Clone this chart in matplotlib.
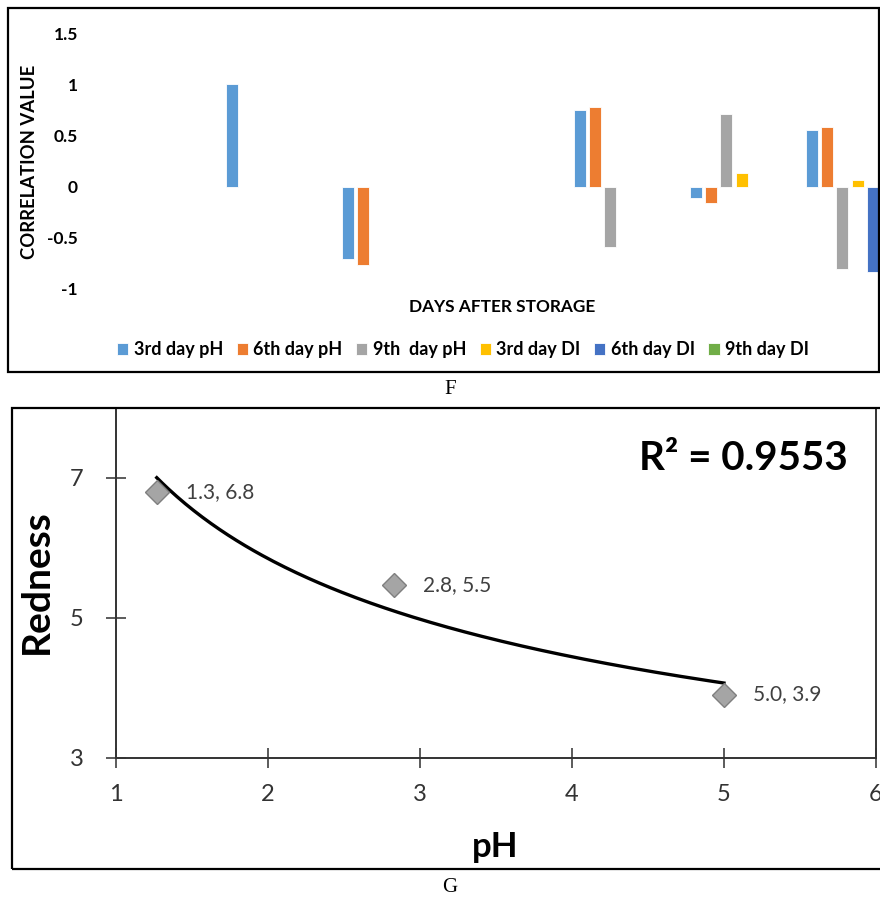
import numpy as np
import matplotlib
matplotlib.use("Agg")
import matplotlib.pyplot as plt
from matplotlib.patches import Rectangle

# ---------------- data: panel F ----------------
groups = ["1", "2", "3", "4", "5", "6"]
series_names = ["3rd day pH", "6th day pH", "9th  day pH", "3rd day DI", "6th day DI", "9th day DI"]
ph3 = [1.00, -0.71, 0.0, 0.744, -0.115, 0.557]
ph6 = [0.0, -0.765, 0.0, 0.778, -0.164, 0.580]
ph9 = [0.0, 0.0, 0.0, -0.588, 0.710, -0.800]
di3 = [0.0, 0.0, 0.0, 0.0, 0.134, 0.062]
di6 = [0.0, 0.0, 0.0, 0.0, 0.0, -0.837]
di9 = [0.0, 0.0, 0.0, 0.0, 0.0, 0.0]
series_vals = [ph3, ph6, ph9, di3, di6, di9]
series_colors = ["#5B9BD5", "#ED7D31", "#A5A5A5", "#FFC000", "#4472C4", "#70AD47"]
yticks_f = [-1, -0.5, 0, 0.5, 1, 1.5]
ytick_labels_f = ["-1", "-0.5", "0", "0.5", "1", "1.5"]

# ---------------- data: panel G ----------------
ph_x = [1.27, 2.83, 5.0]
redness_y = [6.8, 5.47, 3.9]
r2_text = "R² = 0.9553"
xticks_g = [1, 2, 3, 4, 5, 6]
yticks_g = [3, 5, 7]

W, H = 880, 901
fig = plt.figure(figsize=(W / 100, H / 100), dpi=100)

def fx(px):
    return px / W

def fy(py):
    return 1 - py / H

SANS = ["Lato", "DejaVu Sans"]
SERIF = ["Liberation Serif", "DejaVu Serif"]

# ---------------- panel F ----------------
axF = fig.add_axes([fx(96), fy(289), (908 - 96) / W, (289 - 33) / H])
x = np.arange(len(groups))
step = 0.132
width = 0.105
for i, (vals, col, name) in enumerate(zip(series_vals, series_colors, series_names)):
    axF.bar(x + (i - 2.5) * step, vals, width=width, color=col,
            edgecolor="white", linewidth=0.6, label=name)
axF.set_xlim(-1.5, 5.5)
axF.set_ylim(-1, 1.5)
axF.set_yticks(yticks_f)
axF.set_yticklabels(ytick_labels_f, fontfamily=SANS, fontweight="bold", fontsize=12.5)
axF.set_xticks([])
axF.tick_params(axis="y", length=0, pad=13)
for s in axF.spines.values():
    s.set_visible(False)

fig.text(fx(29.5), fy(162), "CORRELATION VALUE", rotation=90, ha="center", va="center",
         fontfamily=SANS, fontweight="bold", fontsize=13.3)
fig.text(fx(502), fy(307), "DAYS AFTER STORAGE", ha="center", va="center",
         fontfamily=SANS, fontweight="bold", fontsize=12.4)

handles, labels = axF.get_legend_handles_labels()
fig.legend(handles, labels, loc="center", bbox_to_anchor=(fx(463), fy(350)), ncol=6,
           frameon=False, prop={"family": SANS, "weight": "bold", "size": 13},
           handlelength=0.62, handleheight=0.62, handletextpad=0.3, columnspacing=0.75)

fig.add_artist(Rectangle((fx(8), fy(372)), (879 - 8) / W, (372 - 8) / H,
                         transform=fig.transFigure, fill=False, edgecolor="black", lw=1.6))
fig.text(fx(450), fy(390), "F", ha="center", va="center", fontfamily=SERIF, fontsize=15)

# ---------------- panel G ----------------
axG = fig.add_axes([fx(115.7), fy(757.5), (876 - 115.7) / W, (757.5 - 408) / H])
axG.set_xlim(1, 6)
axG.set_ylim(3, 8)

# power trendline fitted from the data (Excel power trendline)
k, lnc = np.polyfit(np.log(ph_x), np.log(redness_y), 1)
xx = np.linspace(min(ph_x), max(ph_x), 200)
axG.plot(xx, np.exp(lnc) * xx ** k, color="black", lw=2.4, zorder=3)

axG.plot(ph_x, redness_y, linestyle="none", marker="D", markersize=12,
         markerfacecolor="#A5A5A5", markeredgecolor="#7F7F7F", markeredgewidth=1.0, zorder=4)
for px_, py_ in zip(ph_x, redness_y):
    axG.annotate(f"{px_:.1f}, {py_:.1f}", (px_, py_), xytext=(21, 0), textcoords="offset points",
                 ha="left", va="center", fontfamily=SANS, fontsize=15, color="#404040")

axG.set_xticks(xticks_g)
axG.set_yticks(yticks_g)
axG.set_xticklabels([str(t) for t in xticks_g])
axG.set_yticklabels([str(t) for t in yticks_g])
for lab in axG.get_xticklabels() + axG.get_yticklabels():
    lab.set_fontfamily(SANS)
    lab.set_fontsize(17)
    lab.set_color("#333333")
axG.tick_params(axis="both", direction="inout", length=14, width=1.2, color="#404040")
axG.tick_params(axis="y", pad=16)
axG.tick_params(axis="x", pad=12)
for s in axG.spines.values():
    s.set_linewidth(1.4)
    s.set_color("#333333")

fig.text(fx(36), fy(582), "Redness", rotation=90, ha="center", va="center",
         fontfamily=SANS, fontweight="bold", fontsize=28)
fig.text(fx(495), fy(847), "pH", ha="center", va="center",
         fontfamily=SANS, fontweight="bold", fontsize=25)
fig.text(fx(848), fy(459), r2_text, ha="right", va="center",
         fontfamily=SANS, fontweight="bold", fontsize=29)

fig.add_artist(Rectangle((fx(12), fy(869)), (895 - 12) / W, (869 - 408) / H,
                         transform=fig.transFigure, fill=False, edgecolor="black", lw=1.6))
fig.text(fx(450), fy(887), "G", ha="center", va="center", fontfamily=SERIF, fontsize=15)

fig.savefig("out.png", dpi=100)
